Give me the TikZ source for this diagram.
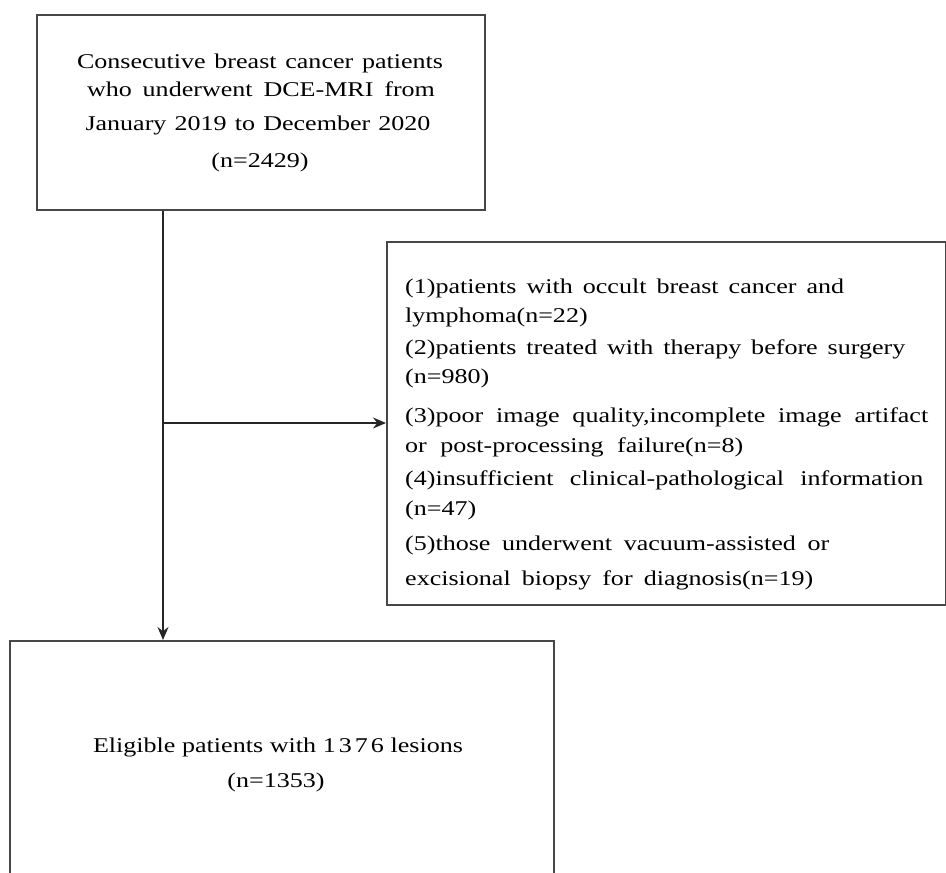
\documentclass[tikz,border=0pt]{standalone}
\usepackage{fontspec}
\setmainfont[FakeStretch=1.24]{Liberation Serif}
\usetikzlibrary{arrows.meta}
\newcommand{\sline}[2]{\makebox[#1pt][s]{#2}}
\begin{document}
\begin{tikzpicture}[x=1pt,y=-1pt,
  box/.style={draw=black!72, line width=1.6pt, anchor=north west, inner sep=0pt},
  txt/.style={font=\fontsize{21}{25}\selectfont, inner sep=0pt, anchor=base},
  ltxt/.style={txt, anchor=base west},
  arr/.style={draw=black!85, line width=1.3pt, -{Stealth[length=13pt,width=11pt]}}]
\useasboundingbox (0,0) rectangle (946,873);
\clip (0,0) rectangle (946,873);
\fill[white] (0,0) rectangle (946,873);
% boxes
\node[box, minimum width=448pt, minimum height=195pt] (top) at (36,14) {};
\node[box, minimum width=559pt, minimum height=363pt] (right) at (386,241) {};
\node[box, minimum width=544pt, minimum height=260pt] (bot) at (9,640) {};
% top text
\node[txt] (t1) at (260,68) {\sline{366}{Consecutive breast cancer patients}};
\node[txt] (t2) at (261,96) {\sline{348}{who underwent DCE-MRI from}};
\node[txt] (t3) at (258,130) {\sline{345}{January 2019 to December 2020}};
\node[txt] (t4) at (260,167) {(n=2429)};
% right text
\node[ltxt] (r1) at (405,293) {\sline{439}{(1)patients with occult breast cancer and}};
\node[ltxt] (r2) at (405,322) {lymphoma(n=22)};
\node[ltxt] (r3) at (405,354) {\sline{500}{(2)patients treated with therapy before surgery}};
\node[ltxt] (r4) at (405,383) {(n=980)};
\node[ltxt] (r5) at (405,422) {\sline{523}{(3)poor image quality,incomplete image artifact}};
\node[ltxt] (r6) at (405,452) {\sline{338}{or post-processing failure(n=8)}};
\node[ltxt] (r7) at (405,485) {\sline{518}{(4)insufficient clinical-pathological information}};
\node[ltxt] (r8) at (405,515) {(n=47)};
\node[ltxt] (r9) at (405,550) {\sline{424}{(5)those underwent vacuum-assisted or}};
\node[ltxt] (r10) at (405,585) {\sline{408}{excisional biopsy for diagnosis(n=19)}};
% bottom text
\node[txt] (b1) at (278,752) {\sline{370}{Eligible patients with 1\hspace{3pt}3\hspace{3pt}7\hspace{3pt}6 lesions}};
\node[txt] (b2) at (276,787) {(n=1353)};
% connectors
\coordinate (v1) at (163,300);
\coordinate (v2) at (163,423);
\draw[arr] (top.south -| v1) -- (bot.north -| v1);
\draw[arr] (v2) -- (right.west |- v2);
\end{tikzpicture}
\end{document}
